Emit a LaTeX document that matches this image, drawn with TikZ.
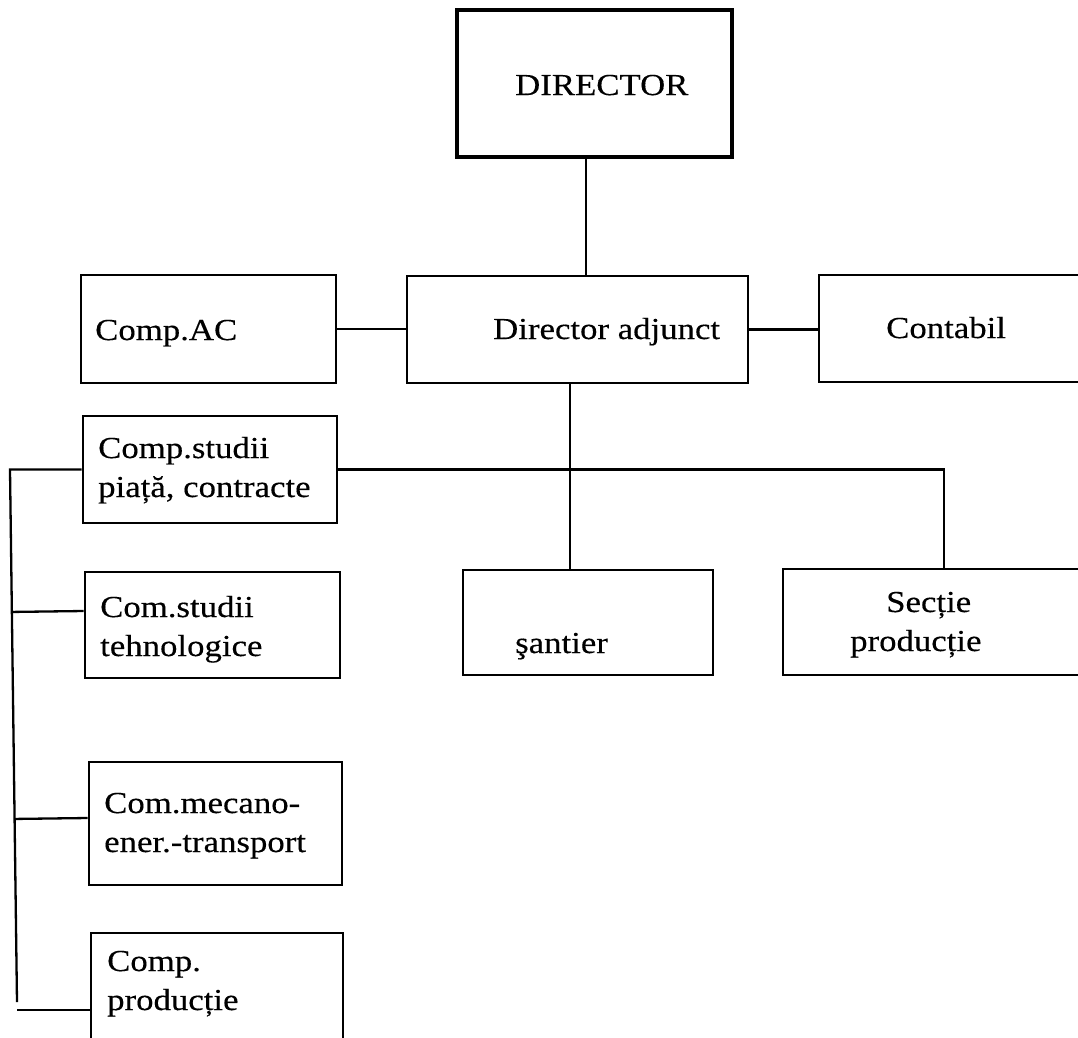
\documentclass[tikz,border=0pt]{standalone}
\usepackage{fontspec}
\setmainfont{Liberation Serif}[FakeStretch=1.14,FakeBold=0.3]
\usetikzlibrary{calc}
\newcommand{\twoln}[2]{\begin{tabular}[t]{@{}l@{}}#1\\#2\end{tabular}}
\begin{document}
\begin{tikzpicture}[x=1pt,y=-1pt,
  box/.style={draw, line width=2.6pt, inner sep=0pt, minimum width=#1},
  bigbox/.style={draw, line width=4.5pt, inner sep=0pt},
  lbl/.style={anchor=base west, inner sep=0pt, font=\fontsize{30.5}{39}\selectfont},
  conn/.style={line width=2.3pt}]
\useasboundingbox (0,0) rectangle (1078,1037);
\clip (0,0) rectangle (1078,1037);
\fill[white] (0,0) rectangle (1078,1037);

% boxes
\node[bigbox, minimum width=275pt, minimum height=147pt] (dir) at (594.5,83.5) {};
\node[box=341pt, minimum height=107pt] (adj) at (577.5,329.5) {};
\node[box=255pt, minimum height=108pt] (ac) at (208.5,329) {};
\node[box=281pt, minimum height=107pt] (cont) at (959.5,328.5) {};
\node[box=254pt, minimum height=107pt] (csp) at (210,469.5) {};
\node[box=255pt, minimum height=106pt] (cst) at (212.5,625) {};
\node[box=253pt, minimum height=123pt] (cme) at (215.5,823.5) {};
\node[box=252pt, minimum height=127pt] (cpr) at (217,996.5) {};
\node[box=250pt, minimum height=105pt] (san) at (588,622.5) {};
\node[box=317pt, minimum height=106pt] (sec) at (941.5,622) {};

% texts
\node[lbl] (tdir) at (515,95) {DIRECTOR};
\node[lbl] (tadj) at (493,339) {Director adjunct};
\node[lbl] (tac) at (95,340) {Comp.AC};
\node[lbl] (tcont) at (886,338) {Contabil};
\node[lbl] (tcsp) at (98,458) {\twoln{Comp.studii}{piață, contracte}};
\node[lbl] (tcst) at (100,617) {\twoln{Com.studii}{tehnologice}};
\node[lbl] (tcme) at (104,813) {\twoln{Com.mecano-}{ener.-transport}};
\node[lbl] (tcpr) at (107,971) {\twoln{Comp.}{producție}};
\node[lbl] (tsan) at (515,653) {şantier};
\node[lbl] (tsec) at (850,612) {\twoln{\hspace*{36pt}Secție}{producție}};

% trunk coordinates
\coordinate (tTop) at (10,469.5);
\coordinate (tBot) at (17,1002);

% connectors
\draw[conn] ([xshift=-8.5pt]dir.south) -- ([xshift=-8.5pt]dir.south |- adj.north);
\draw[conn] (ac.east) -- (ac.east -| adj.west);
\draw[conn] (adj.east) -- (adj.east -| cont.west);
\draw[conn] ([xshift=-7.5pt]adj.south) -- ([xshift=-7.5pt]adj.south |- san.north);
\draw[conn] (csp.east) -| ([xshift=2.5pt]sec.north);
\draw[conn] (csp.west) -- (tTop) -- (tBot);
\draw[conn] ([yshift=14pt]cst.west) -- ($(tTop)!([yshift=14pt]cst.west)!(tBot)$);
\draw[conn] ([yshift=5.5pt]cme.west) -- ($(tTop)!([yshift=5.5pt]cme.west)!(tBot)$);
\draw[conn] ([yshift=-13.5pt]cpr.west) -- ([yshift=-13.5pt]cpr.west -| tBot);
\end{tikzpicture}
\end{document}
